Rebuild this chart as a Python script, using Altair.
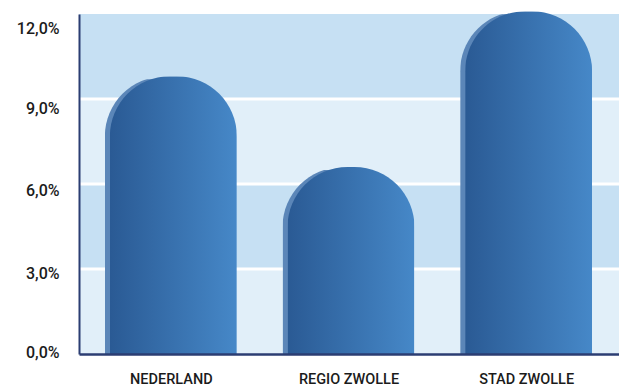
import altair as alt
import pandas as pd

categories = ["NEDERLAND", "REGIO ZWOLLE", "STAD ZWOLLE"]
values = [9.8, 6.6, 12.1]

band_starts = [0, 3, 6, 9]
band_ends = [3, 6, 9, 12]
band_tone = ["light", "dark", "light", "dark"]
grid_values = [3, 6, 9]
tick_values = [0, 3, 6, 9, 12]

bars = pd.DataFrame({"cat": categories, "val": values})
bands = pd.DataFrame({"y0": band_starts, "y1": band_ends, "tone": band_tone})
grid = pd.DataFrame({"g": grid_values})

yscale = alt.Scale(domain=[0, 12], nice=False, zero=True)
xscale = alt.Scale(paddingInner=0.3, paddingOuter=0.17)
FONT = "Roboto"

yaxis = alt.Axis(values=tick_values, title=None, grid=False, ticks=False,
                 domainColor="#2b3d72", domainWidth=2,
                 labelFont=FONT, labelFontSize=16, labelFontWeight=500,
                 labelColor="#1b1b1b", labelPadding=20, zindex=1,
                 labelExpr="replace(format(datum.value, '.1f'), '.', ',') + '%'",
                 labelOffset={"condition": [
                     {"test": "datum.value == 12", "value": 14},
                     {"test": "datum.value == 9", "value": 9},
                     {"test": "datum.value == 6", "value": 6},
                     {"test": "datum.value == 3", "value": 4}],
                     "value": -2})

xaxis = alt.Axis(title=None, ticks=False, labelAngle=0,
                 domainColor="#2b3d72", domainWidth=2.5,
                 labelFont=FONT, labelFontSize=14.5, labelFontWeight=500,
                 labelColor="#1b1b1b", labelPadding=18, zindex=1)

band_layer = alt.Chart(bands).mark_rect().encode(
    y=alt.Y("y0:Q", scale=yscale, axis=yaxis),
    y2="y1:Q",
    color=alt.Color("tone:N", scale=alt.Scale(domain=["light", "dark"],
                                              range=["#e1eff9", "#c6e0f3"]),
                    legend=None),
)

grid_layer = alt.Chart(grid).mark_rule(color="white", strokeWidth=3).encode(
    y=alt.Y("g:Q", scale=yscale, axis=yaxis)
)

back = alt.Chart(bars).mark_bar(
    width=127, xOffset=-3, yOffset=3, color="#5b86b8",
    cornerRadiusTopLeft=60, cornerRadiusTopRight=60,
).encode(
    x=alt.X("cat:N", sort=categories, scale=xscale, axis=xaxis),
    y=alt.Y("val:Q", scale=yscale, axis=yaxis),
)

front = alt.Chart(bars).mark_bar(
    width=127, xOffset=2,
    cornerRadiusTopLeft=60, cornerRadiusTopRight=60,
    color=alt.Gradient(gradient="linear", x1=0, x2=1, y1=0, y2=0,
                       stops=[alt.GradientStop(offset=0, color="#2a5a94"),
                              alt.GradientStop(offset=1, color="#4688c8")]),
).encode(
    x=alt.X("cat:N", sort=categories, scale=xscale, axis=xaxis),
    y=alt.Y("val:Q", scale=yscale, axis=yaxis),
)

chart = alt.layer(band_layer, grid_layer, back, front).properties(
    width=540, height=340,
    autosize=alt.AutoSizeParams(type="none"),
    padding={"left": 79, "top": 14, "right": 0, "bottom": 36},
    background="white",
).configure_view(stroke=None)

chart.save("out.html", embed_options={"renderer": "svg", "actions": False})
